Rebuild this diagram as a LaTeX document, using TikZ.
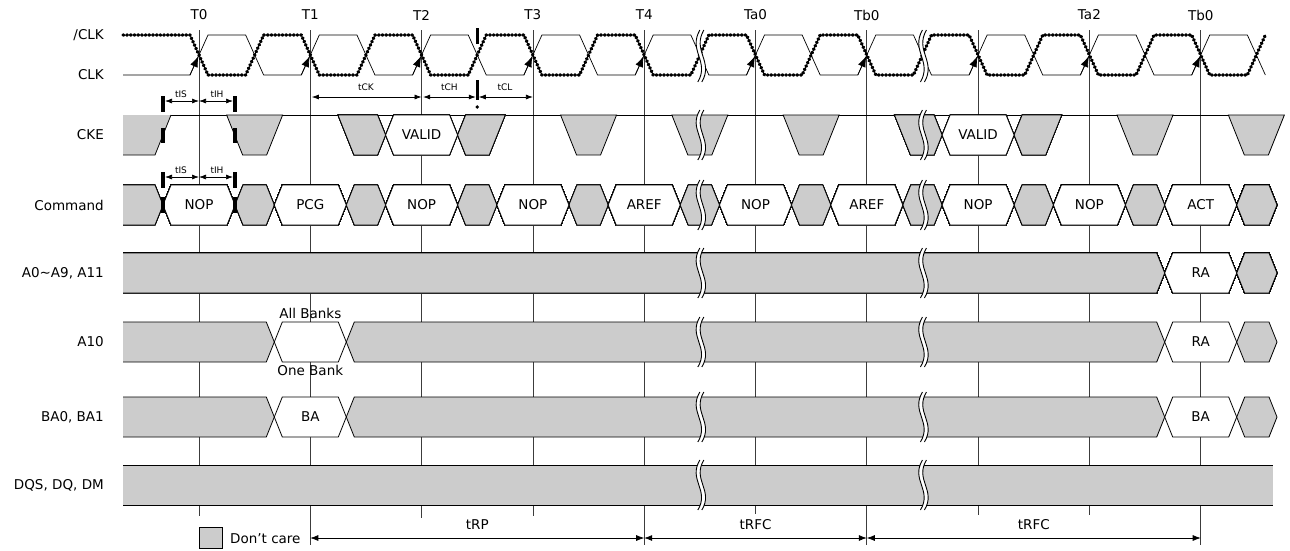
\documentclass[tikz,border=0pt]{standalone}
\usepackage{fontspec}
\setmainfont{DejaVu Sans}
\usetikzlibrary{arrows.meta}
\definecolor{dcgray}{RGB}{204,204,204}
\definecolor{gridln}{RGB}{60,60,60}
\newcommand{\tzero}{199}
\newcommand{\tper}{111.3}
\newcommand{\drawbar}{\draw[line width=3.4pt]}
\newcommand{\bushex}[4]{\filldraw[fill=#4,line width=.8pt] ({#1},#3) -- ({#1+8},{#3-20}) -- ({#2-8},{#3-20}) -- ({#2},#3) -- ({#2-8},{#3+20}) -- ({#1+8},{#3+20}) -- cycle;}
\newcommand{\busfirst}[2]{\fill[dcgray] (123,{#2-20}) -- ({#1-8},{#2-20}) -- ({#1},#2) -- ({#1-8},{#2+20}) -- (123,{#2+20}) -- cycle;
  \draw[line width=.8pt] (123,{#2-20}) -- ({#1-8},{#2-20}) -- ({#1},#2) -- ({#1-8},{#2+20}) -- (123,{#2+20});}
\newcommand{\ckegap}[1]{\filldraw[fill=dcgray,line width=.8pt] ({#1-28},115) -- ({#1+28},115) -- ({#1+12},155) -- ({#1-12},155) -- cycle;}
\newcommand{\wavebreak}[3]{
  \fill[white] ({#1},#2) .. controls ({#1-12},{#2+.4*(#3-#2)}) and ({#1+10},{#3-.4*(#3-#2)}) .. ({#1-2},#3) -- ({#1+2},#3) .. controls ({#1+14},{#3-.4*(#3-#2)}) and ({#1-8},{#2+.4*(#3-#2)}) .. ({#1+4},#2) -- cycle;
  \draw[line width=.9pt] ({#1},#2) .. controls ({#1-12},{#2+.4*(#3-#2)}) and ({#1+10},{#3-.4*(#3-#2)}) .. ({#1-2},#3);
  \draw[line width=.9pt] ({#1+4},#2) .. controls ({#1-8},{#2+.4*(#3-#2)}) and ({#1+14},{#3-.4*(#3-#2)}) .. ({#1+2},#3);
}

\begin{document}
\begin{tikzpicture}[x=1pt,y=-1pt,
  lab/.style={font=\fontsize{13.5pt}{16pt}\selectfont,inner sep=0pt},
  tlabel/.style={font=\fontsize{9pt}{10pt}\selectfont,inner sep=0pt},
  tgrid/.style={draw=gridln,line width=.8pt},
  clkn/.style={line width=3.4pt,dash pattern=on .8pt off 2.9pt,line cap=round,line join=round},
  clkp/.style={line width=.7pt},
  dima/.style={{Latex[length=7pt,width=5pt]}-{Latex[length=7pt,width=5pt]},line width=.7pt},
  dimb/.style={{Latex[length=8pt,width=6pt]}-{Latex[length=8pt,width=6pt]},line width=.7pt}]
\useasboundingbox (0,0) rectangle (1290,550);
\foreach \k/\b in {0/516,1/545,2/518,3/516,4/545,5/514,6/545,7/515,8/515,9/545}
  \draw[tgrid] ({\tzero+\k*\tper},30) -- ({\tzero+\k*\tper},\b);
\foreach \k/\lbl in {0/T0,1/T1,2/T2,3/T3,4/T4,5/Ta0,6/Tb0,8/Ta2,9/Tb0}
  \node[lab] (edge\k) at ({\tzero+\k*\tper},15) {\lbl};
\node[lab,anchor=east] (nclkn) at (104,35) {/CLK};
\node[lab,anchor=east] (nclk) at (104,75) {CLK};
\node[lab,anchor=east] (ncke) at (104,135) {CKE};
\node[lab,anchor=east] (ncmd) at (104,205) {Command};
\node[lab,anchor=east] (naddr) at (104,273) {A0\textasciitilde A9, A11};
\node[lab,anchor=east] (na10) at (104,342) {A10};
\node[lab,anchor=east] (nba) at (104,417) {BA0, BA1};
\node[lab,anchor=east] (ndq) at (104,485) {DQS, DQ, DM};
\draw[clkp] (123,75) \foreach \k in {0,...,9} { -- ({\tzero+\k*\tper-9},75) -- ({\tzero+\k*\tper+9},35) -- ({\tzero+(\k+.5)*\tper-9},35) -- ({\tzero+(\k+.5)*\tper+9},75) };
\draw[clkn] (123,35) \foreach \k in {0,...,9} { -- ({\tzero+\k*\tper-9},35) -- ({\tzero+\k*\tper+9},75) -- ({\tzero+(\k+.5)*\tper-9},75) -- ({\tzero+(\k+.5)*\tper+9},35) };
\foreach \k in {0,...,9}
  \draw[-{Latex[length=11pt,width=8pt]},line width=.7pt] ({\tzero+\k*\tper-9},75) -- ({\tzero+\k*\tper-.5},56);
\draw[line width=.8pt] (123,115) -- ({\tzero+9.5*\tper+28},115);
\fill[dcgray] (123,115) -- ({\tzero-28},115) -- ({\tzero-44},155) -- (123,155) -- cycle;
\draw[line width=.8pt] ({\tzero-28},115) -- ({\tzero-44},155) -- (123,155);
\foreach \k in {0,3,4,5,8,9} \ckegap{\tzero+(\k+.5)*\tper}
\foreach \k in {2,7} {
  \filldraw[fill=dcgray,line width=.8pt] ({\tzero+(\k-.5)*\tper-28},115) -- ({\tzero+\k*\tper-44},115) -- ({\tzero+\k*\tper-36},135) -- ({\tzero+\k*\tper-44},155) -- ({\tzero+(\k-.5)*\tper-12},155) -- cycle;
  \filldraw[fill=dcgray,line width=.8pt] ({\tzero+\k*\tper+44},115) -- ({\tzero+(\k+.5)*\tper+28},115) -- ({\tzero+(\k+.5)*\tper+12},155) -- ({\tzero+\k*\tper+44},155) -- ({\tzero+\k*\tper+36},135) -- cycle;
  \bushex{\tzero+\k*\tper-36}{\tzero+\k*\tper+36}{135}{white}
  \node[lab] (valid\k) at ({\tzero+\k*\tper},135) {VALID};
}
\busfirst{\tzero-36}{205}
\foreach \k in {0,...,8} \bushex{\tzero+\k*\tper+36}{\tzero+(\k+1)*\tper-36}{205}{dcgray}
\bushex{\tzero+9*\tper+36}{1277}{205}{dcgray}
\foreach \k/\cname in {0/NOP,1/PCG,2/NOP,3/NOP,4/AREF,5/NOP,6/AREF,7/NOP,8/NOP,9/ACT} {
  \bushex{\tzero+\k*\tper-36}{\tzero+\k*\tper+36}{205}{white}
  \node[lab] (cmd\k) at ({\tzero+\k*\tper},205) {\cname};
}
\busfirst{\tzero+9*\tper-36}{273}
\bushex{\tzero+9*\tper-36}{\tzero+9*\tper+36}{273}{white}
\bushex{\tzero+9*\tper+36}{1277}{273}{dcgray}
\node[lab] (ra1) at ({\tzero+9*\tper},273) {RA};
\foreach \y/\nm/\lbl in {342/a10/RA,417/ba/BA} {
  \busfirst{\tzero+\tper-36}{\y}
  \bushex{\tzero+\tper-36}{\tzero+\tper+36}{\y}{white}
  \bushex{\tzero+\tper+36}{\tzero+9*\tper-36}{\y}{dcgray}
  \bushex{\tzero+9*\tper-36}{\tzero+9*\tper+36}{\y}{white}
  \bushex{\tzero+9*\tper+36}{1277}{\y}{dcgray}
  \node[lab] (\nm end) at ({\tzero+9*\tper},\y) {\lbl};
}
\node[lab] (baval) at ({\tzero+\tper},417) {BA};
\node[lab] (allbk) at ({\tzero+\tper},313) {All Banks};
\node[lab] (onebk) at ({\tzero+\tper},370) {One Bank};
\fill[dcgray] (123,465) rectangle (1273,505);
\draw[line width=.8pt] (123,465) -- (1273,465);
\draw[line width=.8pt] (123,505) -- (1273,505);
\foreach \x in {4.5,6.5} {
  \wavebreak{\tzero+\x*\tper}{30}{82}
  \wavebreak{\tzero+\x*\tper}{110}{160}
  \wavebreak{\tzero+\x*\tper}{180}{230}
  \wavebreak{\tzero+\x*\tper}{248}{298}
  \wavebreak{\tzero+\x*\tper}{317}{367}
  \wavebreak{\tzero+\x*\tper}{392}{442}
  \wavebreak{\tzero+\x*\tper}{460}{510}
}
\foreach \y/\d in {96/101,172/177} {
  \drawbar (163,\y) -- (163,\y+16);
  \drawbar (235,\y) -- (235,\y+16);
  \draw[dima] (165,\d) -- (199,\d);
  \draw[dima] (199,\d) -- (233,\d);
}
\node[tlabel] (tis1) at (181,94) {tIS};
\node[tlabel] (tih1) at (217,94) {tIH};
\node[tlabel] (tis2) at (181,170) {tIS};
\node[tlabel] (tih2) at (217,170) {tIH};
\drawbar (163,128) -- (163,143);
\drawbar (235,128) -- (235,143);
\drawbar (163,197) -- (163,213);
\drawbar (235,197) -- (235,213);
\drawbar ({\tzero+2.5*\tper},28) -- ({\tzero+2.5*\tper},44);
\drawbar ({\tzero+2.5*\tper},80) -- ({\tzero+2.5*\tper},100);
\fill ({\tzero+2.5*\tper},107) circle (1.8);
\draw[dima] ({\tzero+\tper+1.5},97) -- ({\tzero+2*\tper},97);
\draw[dima] ({\tzero+2*\tper+1.5},97) -- ({\tzero+2.5*\tper-1.5},97);
\draw[dima] ({\tzero+2.5*\tper+1.5},97) -- ({\tzero+3*\tper},97);
\node[tlabel] (tck) at ({\tzero+1.5*\tper},87) {tCK};
\node[tlabel] (tch) at ({\tzero+2.25*\tper},87) {tCH};
\node[tlabel] (tcl) at ({\tzero+2.75*\tper},87) {tCL};
\foreach \k in {1,4,6,9} \coordinate (dim\k) at ({\tzero+\k*\tper},538);
\draw[dimb] (dim1) -- (dim4);
\draw[dimb] (dim4) -- (dim6);
\draw[dimb] (dim6) -- (dim9);
\node[lab] (trp) at ({\tzero+2.5*\tper},525) {tRP};
\node[lab] (trfca) at ({\tzero+5*\tper},525) {tRFC};
\node[lab] (trfcb) at ({\tzero+7.5*\tper},525) {tRFC};
\filldraw[fill=dcgray,line width=.7pt] (199,527) rectangle (222,548);
\node[lab,anchor=west] (dcare) at (230,539) {Don't care};
\end{tikzpicture}
\end{document}
